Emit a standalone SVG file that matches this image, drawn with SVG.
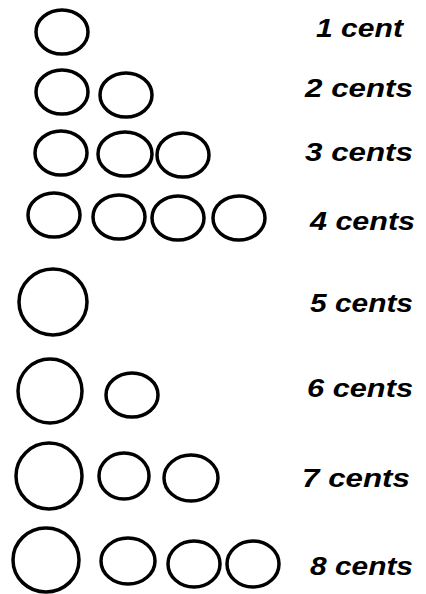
<svg xmlns="http://www.w3.org/2000/svg" width="426" height="594" viewBox="0 0 426 594">
<style>
.coin{fill:none;stroke:#000;stroke-width:3.5}
.lbl{font-family:"Liberation Sans",Arial,sans-serif;font-style:italic;font-weight:bold;font-size:25px;fill:#000}
</style>
<rect width="426" height="594" fill="#fff"/>
<g id="row1">
<ellipse class="coin" cx="62" cy="32" rx="26" ry="22"/>
<text class="lbl" x="316" y="37" textLength="87" lengthAdjust="spacingAndGlyphs">1 cent</text>
</g>
<g id="row2">
<ellipse class="coin" cx="62" cy="92" rx="26" ry="22"/>
<ellipse class="coin" cx="126" cy="95" rx="26" ry="22"/>
<text class="lbl" x="305" y="97" textLength="108" lengthAdjust="spacingAndGlyphs">2 cents</text>
</g>
<g id="row3">
<ellipse class="coin" cx="61" cy="153" rx="26" ry="22"/>
<ellipse class="coin" cx="125" cy="154" rx="27" ry="22"/>
<ellipse class="coin" cx="183" cy="155" rx="26" ry="22"/>
<text class="lbl" x="305" y="161" textLength="108" lengthAdjust="spacingAndGlyphs">3 cents</text>
</g>
<g id="row4">
<ellipse class="coin" cx="54" cy="215" rx="26" ry="22"/>
<ellipse class="coin" cx="119" cy="217" rx="26" ry="22"/>
<ellipse class="coin" cx="178" cy="218" rx="26" ry="22"/>
<ellipse class="coin" cx="239" cy="218" rx="26" ry="22"/>
<text class="lbl" x="310" y="230" textLength="105" lengthAdjust="spacingAndGlyphs">4 cents</text>
</g>
<g id="row5">
<ellipse class="coin" cx="53" cy="302" rx="34" ry="33"/>
<text class="lbl" x="310" y="312" textLength="103" lengthAdjust="spacingAndGlyphs">5 cents</text>
</g>
<g id="row6">
<ellipse class="coin" cx="50" cy="391" rx="32" ry="32"/>
<ellipse class="coin" cx="132" cy="395" rx="26" ry="22"/>
<text class="lbl" x="307" y="397" textLength="106" lengthAdjust="spacingAndGlyphs">6 cents</text>
</g>
<g id="row7">
<ellipse class="coin" cx="49" cy="476" rx="33" ry="33"/>
<ellipse class="coin" cx="124" cy="476" rx="25" ry="23"/>
<ellipse class="coin" cx="191" cy="478" rx="27" ry="23"/>
<text class="lbl" x="302" y="487" textLength="108" lengthAdjust="spacingAndGlyphs">7 cents</text>
</g>
<g id="row8">
<ellipse class="coin" cx="46" cy="560" rx="33" ry="32"/>
<ellipse class="coin" cx="128" cy="561" rx="27" ry="23"/>
<ellipse class="coin" cx="194" cy="564" rx="26" ry="23"/>
<ellipse class="coin" cx="253" cy="564" rx="26" ry="23"/>
<text class="lbl" x="310" y="575" textLength="103" lengthAdjust="spacingAndGlyphs">8 cents</text>
</g>
</svg>
